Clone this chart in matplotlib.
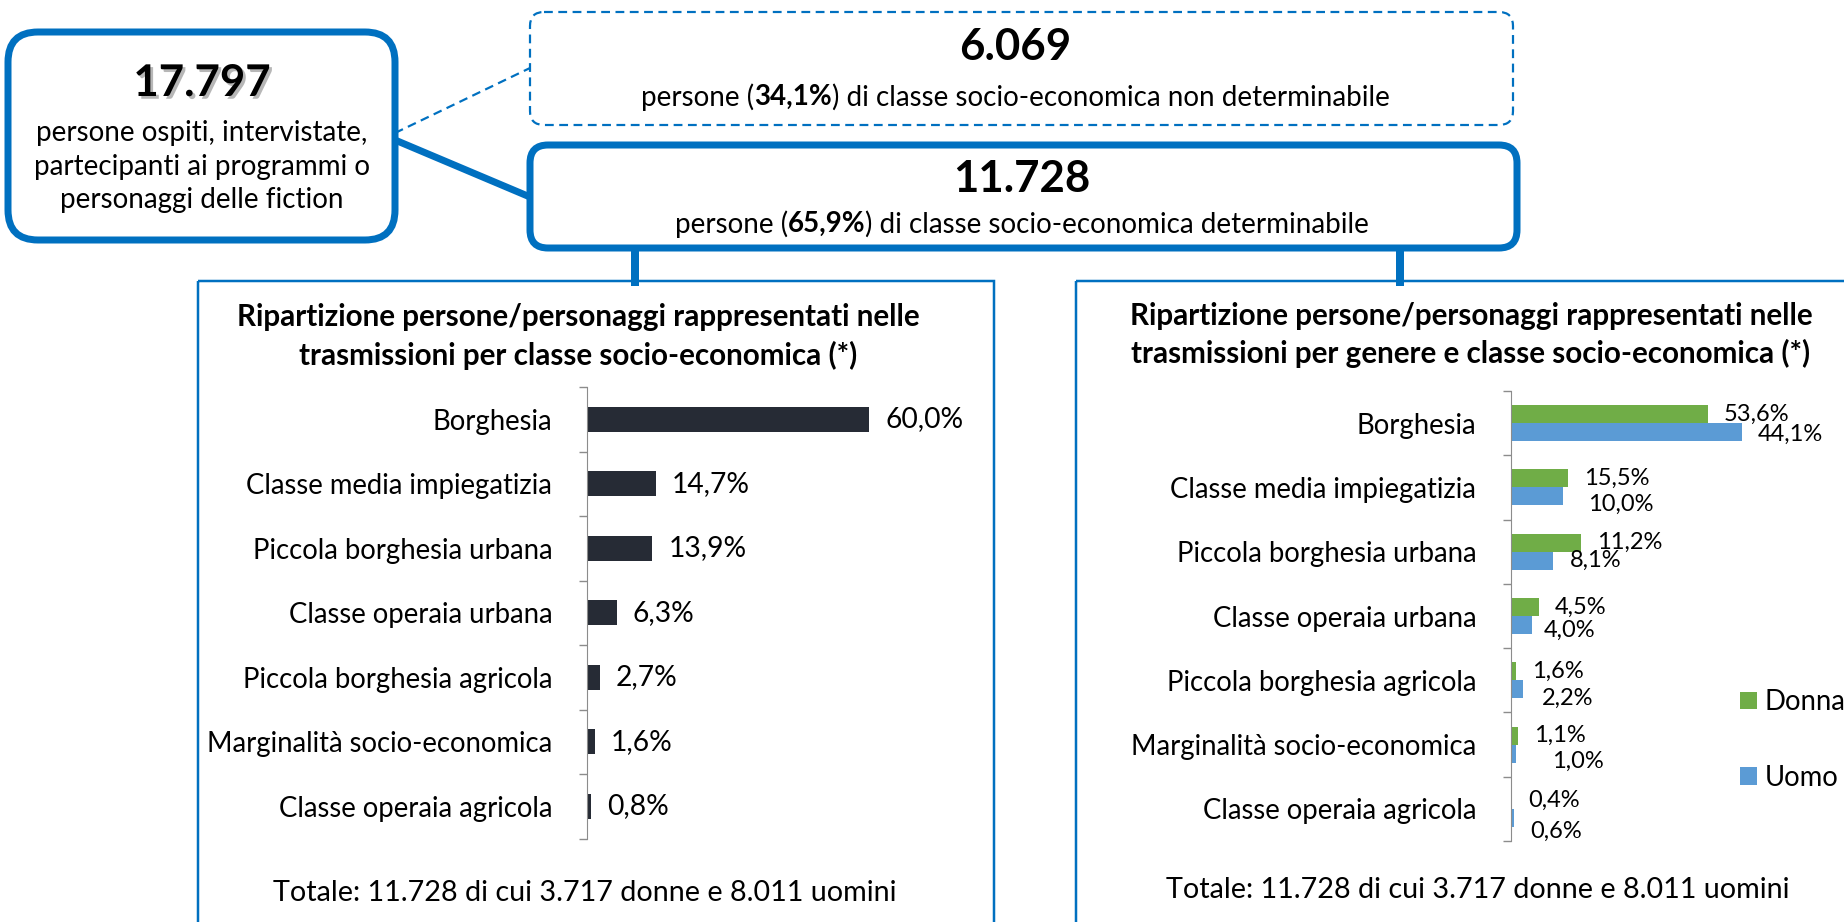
import numpy as np
import matplotlib
matplotlib.use("Agg")
import matplotlib.pyplot as plt
import matplotlib.patheffects as pe
from matplotlib.patches import FancyBboxPatch, Rectangle

plt.rcParams["font.family"] = ["Lato", "DejaVu Sans"]

# --- data -------------------------------------------------------------
categorie = ["Borghesia", "Classe media impiegatizia", "Piccola borghesia urbana",
             "Classe operaia urbana", "Piccola borghesia agricola",
             "Marginalità socio-economica", "Classe operaia agricola"]
totale_pct = [60.0, 14.7, 13.9, 6.3, 2.7, 1.6, 0.8]
# green bars as drawn in the original (lengths differ from their labels)
donna_barre = [37.6, 10.9, 13.4, 5.3, 1.0, 1.3, 0.2]
donna_pct = [53.6, 15.5, 11.2, 4.5, 1.6, 1.1, 0.4]
uomo_pct = [44.1, 10.0, 8.1, 4.0, 2.2, 1.0, 0.6]

tot_persone = "17.797"
non_det = "6.069"
non_det_pct = "34,1%"
det = "11.728"
det_pct = "65,9%"
nota_totale = "Totale: 11.728 di cui 3.717 donne e 8.011 uomini"

# --- layout -----------------------------------------------------------
W, H = 1844, 922
PX = 0.72            # points per pixel at dpi 100
BLUE = "#0070C0"
GREY = "#8C8C8C"
DARK = "#262B35"
GREEN = "#70AD47"
LBLUE = "#5B9BD5"
FS_CAT = 19.8
FS_TITLE = 21.3
FS_BOX = 20
FS_BIG = 31.5


def pct(v):
    return f"{v:.1f}".replace(".", ",") + "%"


fig = plt.figure(figsize=(W / 100, H / 100), dpi=100)
bg = fig.add_axes([0, 0, 1, 1])
bg.set_xlim(0, W)
bg.set_ylim(H, 0)
bg.axis("off")


def pix_axes(x0, y0, x1, y1):
    return fig.add_axes([x0 / W, 1 - y1 / H, (x1 - x0) / W, (y1 - y0) / H])


def box(x0, y0, x1, y1, lw, r, ls="-"):
    p = FancyBboxPatch((x0, y0), x1 - x0, y1 - y0,
                       boxstyle=f"round,pad=0,rounding_size={r}",
                       fc="white", ec=BLUE, lw=lw * PX, ls=ls, zorder=3)
    bg.add_patch(p)


def mixed_line(xc, y, parts, size):
    r = fig.canvas.get_renderer()
    texts = [bg.text(0, y, s, fontsize=size, fontweight=w, va="center",
                     ha="left", zorder=5) for s, w in parts]
    widths = [t.get_window_extent(r).width for t in texts]
    x = xc - sum(widths) / 2
    for t, w in zip(texts, widths):
        t.set_x(x)
        x += w


# connectors
bg.plot([395, 530], [133, 68], color=BLUE, lw=2.2 * PX, ls=(0, (4, 2.5)), zorder=2)
bg.plot([395, 530], [140, 197], color=BLUE, lw=7 * PX, zorder=2)
bg.plot([635, 635], [245, 282], color=BLUE, lw=8 * PX, zorder=2)
bg.plot([1400, 1400], [245, 282], color=BLUE, lw=8 * PX, zorder=2)

# boxes
box(8, 32, 395, 240, 7, 30)
box(530, 12, 1513, 125, 2.2, 14, ls=(0, (4, 2.5)))
box(530, 145, 1517, 248, 7, 18)

shadow = [pe.withSimplePatchShadow(offset=(2, -2), shadow_rgbFace="#888888", alpha=0.6)]
bg.text(202, 83, tot_persone, fontsize=FS_BIG, fontweight="bold", ha="center",
        va="center", zorder=5, path_effects=shadow)
for yy, s in zip([133, 167, 200], ["persone ospiti, intervistate,",
                                   "partecipanti ai programmi o",
                                   "personaggi delle fiction"]):
    bg.text(202, yy, s, fontsize=FS_BOX, ha="center", va="center", zorder=5)

bg.text(1015, 47, non_det, fontsize=FS_BIG, fontweight="bold", ha="center",
        va="center", zorder=5)
mixed_line(1015, 97, [("persone (", "normal"), (non_det_pct, "bold"),
                      (") di classe socio-economica non determinabile", "normal")], FS_BOX)
bg.text(1022, 179, det, fontsize=FS_BIG, fontweight="bold", ha="center",
        va="center", zorder=5)
mixed_line(1022, 224, [("persone (", "normal"), (det_pct, "bold"),
                       (") di classe socio-economica determinabile", "normal")], FS_BOX)

# panels
bg.add_patch(Rectangle((198, 281), 994 - 198, 700, fill=False, ec=BLUE,
                       lw=2.5 * PX, zorder=1))
bg.add_patch(Rectangle((1076, 281), 900, 700, fill=False, ec=BLUE,
                       lw=2.5 * PX, zorder=1))

bg.text(578, 317, "Ripartizione persone/personaggi rappresentati nelle",
        fontsize=FS_TITLE, fontweight="bold", ha="center", va="center")
bg.text(578, 355, "trasmissioni per classe socio-economica (*)",
        fontsize=FS_TITLE, fontweight="bold", ha="center", va="center")
bg.text(1471, 316, "Ripartizione persone/personaggi rappresentati nelle",
        fontsize=FS_TITLE, fontweight="bold", ha="center", va="center")
bg.text(1471, 353, "trasmissioni per genere e classe socio-economica (*)",
        fontsize=FS_TITLE, fontweight="bold", ha="center", va="center")
bg.text(585, 893, nota_totale, fontsize=20.7, ha="center", va="center")
bg.text(1478, 890, nota_totale, fontsize=20.7, ha="center", va="center")

y = np.arange(len(categorie))


def style_axis(ax):
    ax.set_ylim(len(categorie) - 0.5, -0.5)
    ax.set_yticks(y, categorie)
    ax.set_yticks(np.arange(-0.5, len(categorie)), minor=True)
    ax.tick_params(axis="y", which="major", length=0, pad=25, labelsize=FS_CAT)
    ax.tick_params(axis="y", which="minor", length=8 * PX, width=1, color=GREY)
    ax.set_xticks([])
    for s in ["top", "right", "bottom"]:
        ax.spines[s].set_visible(False)
    ax.spines["left"].set_color(GREY)
    ax.patch.set_alpha(0)


# left chart
ax1 = pix_axes(587, 387, 587 + 70 * 4.7, 838.5)
ax1.set_xlim(0, 70)
ax1.barh(y, totale_pct, height=0.39, color=DARK)
for v, yy in zip(totale_pct, y):
    ax1.annotate(pct(v), (v, yy), xytext=(16 * PX, 0), textcoords="offset points",
                 va="center", fontsize=20.3, annotation_clip=False)
style_axis(ax1)

# right chart (label nudges in pixels, as placed in the original)
uomo_dx = [0, 9, 0, -4, 3, 20, 0]
uomo_dy = [2, 8, 0, 5, 9, 8, 13]
ax2 = pix_axes(1511, 391, 1511 + 50 * 5.24, 841)
ax2.set_xlim(0, 50)
h = 0.28
bd = ax2.barh(y - h / 2, donna_barre, height=h, color=GREEN, label="Donna")
bu = ax2.barh(y + h / 2, uomo_pct, height=h, color=LBLUE, label="Uomo")
for b, v, yy in zip(donna_barre, donna_pct, y):
    ax2.annotate(pct(v), (b, yy - h / 2), xytext=(16 * PX, 0),
                 textcoords="offset points", va="center", fontsize=17,
                 annotation_clip=False)
for v, yy, dx, dy in zip(uomo_pct, y, uomo_dx, uomo_dy):
    ax2.annotate(pct(v), (v, yy + h / 2), xytext=((16 + dx) * PX, -dy * PX),
                 textcoords="offset points", va="center", fontsize=17,
                 annotation_clip=False)
style_axis(ax2)

fig.legend(handles=[bd, bu], loc="upper left",
           bbox_to_anchor=(1740 / W, 1 - 689 / H), frameon=False,
           fontsize=FS_CAT, handlelength=0.6, handleheight=0.6,
           handletextpad=0.3, labelspacing=1.8, borderpad=0, borderaxespad=0)

fig.savefig("out.png", dpi=100)
